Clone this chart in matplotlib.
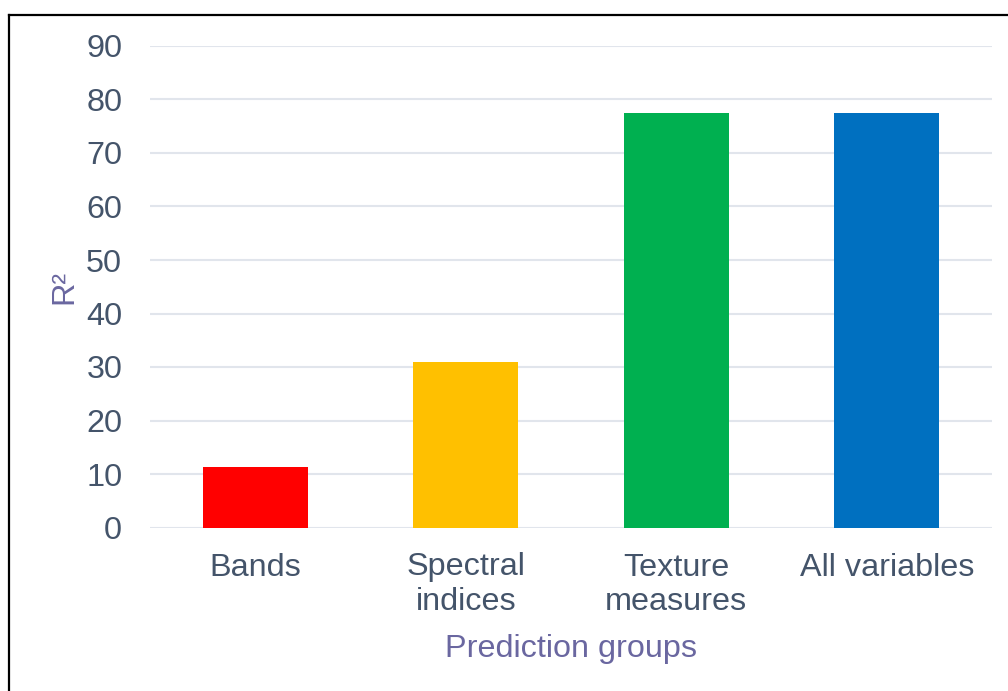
import matplotlib.pyplot as plt
from matplotlib.lines import Line2D

plt.rcParams['font.family'] = ['Liberation Sans', 'DejaVu Sans']

groups = ["Bands", "Spectral\nindices", "Texture\nmeasures", "All variables"]
r2 = [11.3, 30.9, 77.5, 77.5]
colors = ["#FF0000", "#FFC000", "#00B050", "#0070C0"]
yticks = list(range(0, 100, 10))

tick_col = "#44546A"
title_col = "#6A67A0"
grid_col = "#E1E5EC"
fs = 23.3

fig = plt.figure(figsize=(10.08, 6.91), dpi=100)
ax = fig.add_axes([150 / 1008, 1 - 527.5 / 691, 842 / 1008, 481.5 / 691])

x = list(range(len(groups)))
ax.bar(x, r2, width=0.5, color=colors, zorder=3)

ax.set_ylim(0, 90)
ax.set_xlim(-0.5, len(groups) - 0.5)
ax.set_yticks(yticks)
ax.set_xticks(x)
ax.set_xticklabels(groups, linespacing=1.2)
ax.tick_params(axis='both', length=0, labelsize=fs, colors=tick_col)
ax.tick_params(axis='y', pad=20)
ax.tick_params(axis='x', pad=18)
ax.grid(axis='y', color=grid_col, linewidth=1.5, zorder=0)
for s in ax.spines.values():
    s.set_visible(False)

ax.set_ylabel("R²", fontsize=fs, color=title_col, labelpad=5)
ax.set_xlabel("Prediction groups", fontsize=fs, color=title_col, labelpad=12)

# outer chart border (only left and top edges fall inside the image)
fig.add_artist(Line2D([9 / 1008, 9 / 1008], [0, 1 - 15 / 691], color="black", linewidth=1.6, transform=fig.transFigure))
fig.add_artist(Line2D([9 / 1008, 1], [1 - 15 / 691, 1 - 15 / 691], color="black", linewidth=1.6, transform=fig.transFigure))

plt.savefig("out.png", dpi=100)
